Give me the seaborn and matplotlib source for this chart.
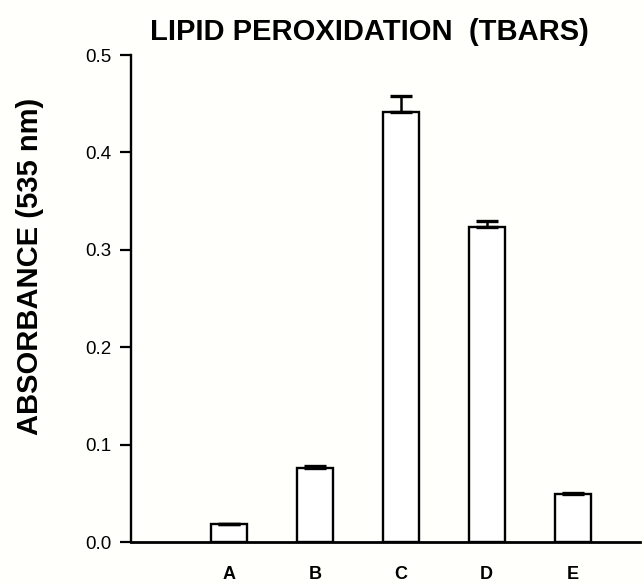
import matplotlib
matplotlib.use("Agg")
import matplotlib.pyplot as plt
import seaborn as sns
import pandas as pd
import numpy as np

categories = ["A", "B", "C", "D", "E"]
absorbance = [0.018, 0.076, 0.442, 0.323, 0.049]
sem = [0.001, 0.002, 0.016, 0.007, 0.001]
yticks = [0.0, 0.1, 0.2, 0.3, 0.4, 0.5]
ytick_labels = ["0.0", "0.1", "0.2", "0.3", "0.4", "0.5"]

sns.set_theme(style="ticks")
plt.rcParams["font.family"] = ["Liberation Sans", "DejaVu Sans"]
plt.rcParams["text.color"] = "black"
plt.rcParams["axes.labelcolor"] = "black"
plt.rcParams["xtick.color"] = "black"
plt.rcParams["ytick.color"] = "black"
plt.rcParams["axes.edgecolor"] = "black"

df = pd.DataFrame({"group": categories, "value": absorbance})

fig = plt.figure(figsize=(6.44, 5.84), dpi=100, facecolor="#fffffb")
ax = fig.add_axes([0.2034, 0.0719, 0.7904, 0.8339])
ax.set_facecolor("#fffffb")

sns.barplot(data=df, x="group", y="value", color="white", edgecolor="black",
            linewidth=1.7, width=0.42, ax=ax, errorbar=None, saturation=1)

ax.errorbar(np.arange(len(categories)), absorbance,
            yerr=[np.zeros(len(sem)), sem], fmt="none", ecolor="black",
            elinewidth=1.8, capsize=8, capthick=2.4)

ax.set_xlim(-1.14, 4.785)
ax.set_ylim(0, 0.5)
ax.set_yticks(yticks)
ax.set_yticklabels(ytick_labels, fontsize=13.5)
ax.tick_params(axis="y", direction="out", length=8, width=1.6, pad=6)
ax.tick_params(axis="x", length=0, pad=17, labelsize=13)
for lbl in ax.get_xticklabels():
    lbl.set_fontweight("bold")

sns.despine(ax=ax)
ax.spines["left"].set_linewidth(1.7)
ax.spines["bottom"].set_linewidth(2.0)

ax.set_xlabel("")
ax.set_ylabel("ABSORBANCE (535 nm)", fontsize=21, fontweight="bold")
ax.yaxis.set_label_coords(-0.198, 0.566)
ax.yaxis.label.set_va("center")

fig.text(0.573, 0.945, "LIPID PEROXIDATION  (TBARS)", ha="center", va="center",
         fontsize=21, fontweight="bold")

fig.savefig("out.png", dpi=100, facecolor=fig.get_facecolor())
